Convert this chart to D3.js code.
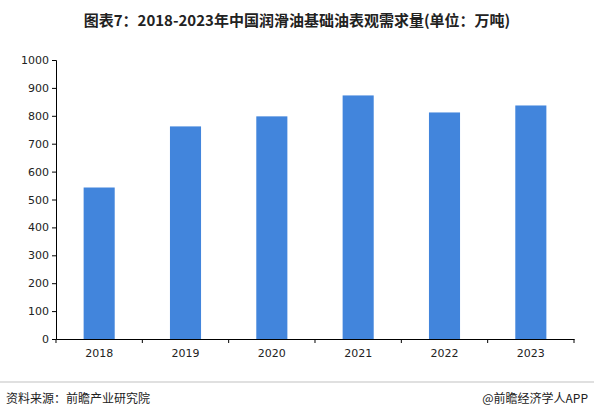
<!DOCTYPE html>
<html><head><meta charset="utf-8">
<script src="https://cdn.jsdelivr.net/npm/d3@7"></script>
<style>body{margin:0;background:#fff;font-family:"Noto Sans CJK SC","DejaVu Sans",sans-serif}</style>
</head><body><svg id="c" width="594" height="418"></svg>
<script>
var years = ['2018', '2019', '2020', '2021', '2022', '2023'];
var demand = [543, 762, 798, 873, 812, 837];
var yTicks = [0, 100, 200, 300, 400, 500, 600, 700, 800, 900, 1000];

var margin = {left: 56, right: 20, top: 60, bottom: 79};
var svg = d3.select('#c');
var x = d3.scaleBand().domain(years).range([margin.left, 574]).paddingInner(0.64).paddingOuter(0.32);
var y = d3.scaleLinear().domain([0, 1000]).range([418 - margin.bottom, margin.top]);

svg.append('text').attr('x', 297).attr('y', 26).attr('text-anchor', 'middle')
  .attr('font-size', 15).attr('font-weight', 'bold').attr('fill', '#222')
  .text('图表7：2018-2023年中国润滑油基础油表观需求量(单位：万吨)');

svg.selectAll('rect.bar').data(demand).enter().append('rect')
  .attr('class', 'bar')
  .attr('x', (d, i) => x(years[i]))
  .attr('width', x.bandwidth())
  .attr('y', d => y(d))
  .attr('height', d => y(0) - y(d))
  .attr('fill', '#4285dc');

var ya = svg.append('g').attr('transform', 'translate(' + margin.left + ',0)')
  .call(d3.axisLeft(y).tickValues(yTicks).tickSize(4).tickFormat(d3.format('d')));
var xa = svg.append('g').attr('transform', 'translate(0,' + y(0) + ')')
  .call(d3.axisBottom(x).tickSize(0).tickPadding(10));
xa.selectAll('.tick').append('line').attr('x1', -x.step() / 2).attr('x2', -x.step() / 2).attr('y2', 4).attr('stroke', '#000');
xa.append('line').attr('x1', 574).attr('x2', 574).attr('y2', 4).attr('stroke', '#000');
[ya, xa].forEach(a => {
  a.selectAll('text').attr('font-size', 11).attr('fill', '#222').attr('font-family', 'DejaVu Sans, sans-serif');
  a.select('.domain').attr('stroke', '#000');
});

svg.append('line').attr('x1', 0).attr('x2', 594).attr('y1', 382).attr('y2', 382).attr('stroke', '#999').attr('stroke-width', 0.6);
svg.append('text').attr('x', 6).attr('y', 403).attr('font-size', 12).attr('fill', '#222').text('资料来源：前瞻产业研究院');
svg.append('text').attr('x', 588).attr('y', 403).attr('text-anchor', 'end').attr('font-size', 12).attr('fill', '#222').text('@前瞻经济学人APP');
</script></body></html>
